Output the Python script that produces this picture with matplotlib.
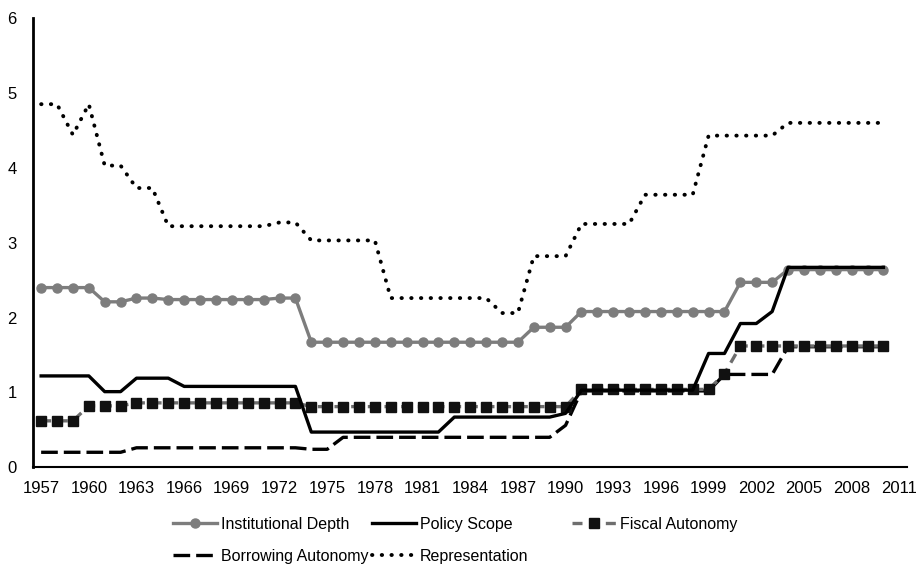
import matplotlib
matplotlib.use("Agg")
import matplotlib.pyplot as plt

years = list(range(1957, 2011))

# values
institutional_depth = [2.40, 2.40, 2.40, 2.40, 2.21, 2.21, 2.26, 2.26, 2.24, 2.24,
                       2.24, 2.24, 2.24, 2.24, 2.24, 2.26, 2.26, 1.67, 1.67, 1.67,
                       1.67, 1.67, 1.67, 1.67, 1.67, 1.67, 1.67, 1.67, 1.67, 1.67,
                       1.67, 1.87, 1.87, 1.87, 2.08, 2.08, 2.08, 2.08, 2.08, 2.08,
                       2.08, 2.08, 2.08, 2.08, 2.47, 2.47, 2.47, 2.64, 2.64, 2.64,
                       2.64, 2.64, 2.64, 2.64]
policy_scope = [1.22, 1.22, 1.22, 1.22, 1.01, 1.01, 1.19, 1.19, 1.19, 1.08,
                1.08, 1.08, 1.08, 1.08, 1.08, 1.08, 1.08, 0.47, 0.47, 0.47,
                0.47, 0.47, 0.47, 0.47, 0.47, 0.47, 0.67, 0.67, 0.67, 0.67,
                0.67, 0.67, 0.67, 0.72, 1.03, 1.03, 1.03, 1.03, 1.03, 1.03,
                1.03, 1.03, 1.52, 1.52, 1.92, 1.92, 2.08, 2.67, 2.67, 2.67,
                2.67, 2.67, 2.67, 2.67]
fiscal_autonomy = [0.62, 0.62, 0.62, 0.82, 0.82, 0.82, 0.86, 0.86, 0.86, 0.86,
                   0.86, 0.86, 0.86, 0.86, 0.86, 0.86, 0.86, 0.81, 0.81, 0.81,
                   0.81, 0.81, 0.81, 0.81, 0.81, 0.81, 0.81, 0.81, 0.81, 0.81,
                   0.81, 0.81, 0.81, 0.81, 1.04, 1.04, 1.04, 1.04, 1.04, 1.04,
                   1.04, 1.04, 1.04, 1.25, 1.62, 1.62, 1.62, 1.62, 1.62, 1.62,
                   1.62, 1.62, 1.62, 1.62]
borrowing_autonomy = [0.20, 0.20, 0.20, 0.20, 0.20, 0.20, 0.26, 0.26, 0.26, 0.26,
                      0.26, 0.26, 0.26, 0.26, 0.26, 0.26, 0.26, 0.24, 0.24, 0.40,
                      0.40, 0.40, 0.40, 0.40, 0.40, 0.40, 0.40, 0.40, 0.40, 0.40,
                      0.40, 0.40, 0.40, 0.56, 1.02, 1.02, 1.02, 1.02, 1.02, 1.02,
                      1.02, 1.02, 1.02, 1.24, 1.24, 1.24, 1.24, 1.61, 1.61, 1.61,
                      1.61, 1.61, 1.61, 1.61]
representation = [4.85, 4.85, 4.44, 4.85, 4.03, 4.03, 3.73, 3.73, 3.22, 3.22,
                  3.22, 3.22, 3.22, 3.22, 3.22, 3.27, 3.27, 3.03, 3.03, 3.03,
                  3.03, 3.03, 2.26, 2.26, 2.26, 2.26, 2.26, 2.26, 2.26, 2.06,
                  2.06, 2.82, 2.82, 2.82, 3.25, 3.25, 3.25, 3.25, 3.64, 3.64,
                  3.64, 3.64, 4.43, 4.43, 4.43, 4.43, 4.43, 4.60, 4.60, 4.60,
                  4.60, 4.60, 4.60, 4.60]

xticks = list(range(1957, 2012, 3))

fig = plt.figure(figsize=(9.22, 5.65), dpi=100)
ax = fig.add_axes([0.036, 0.173, 0.948, 0.795])

h_id, = ax.plot(years, institutional_depth, color="#7d7d7d", lw=2.4, marker="o",
                markersize=6.5, label="Institutional Depth", zorder=3)
h_ps, = ax.plot(years, policy_scope, color="black", lw=2.4, label="Policy Scope", zorder=4)
h_fa, = ax.plot(years, fiscal_autonomy, color="#6e6e6e", lw=2.4, ls=(0, (3, 2)),
                marker="s", markersize=6.5, markerfacecolor="#111111",
                markeredgecolor="#111111", label="Fiscal Autonomy", zorder=3)
h_ba, = ax.plot(years, borrowing_autonomy, color="black", lw=2.4, ls=(0, (5, 1.8)),
                label="Borrowing Autonomy", zorder=2)
h_rep, = ax.plot(years, representation, color="black", lw=2.8, ls=(0, (0.1, 2.4)),
                 dash_capstyle="round", label="Representation", zorder=2)

ax.set_xlim(1956.5, 2011.5)
ax.set_ylim(0, 6)
ax.set_xticks(xticks)
ax.set_yticks(range(0, 7))
ax.tick_params(length=0, pad=10)
for lbl in ax.get_xticklabels() + ax.get_yticklabels():
    lbl.set_family(["Liberation Sans", "DejaVu Sans"])
    lbl.set_fontsize(12)
ax.tick_params(axis="y", pad=12)
for side in ["top", "right"]:
    ax.spines[side].set_visible(False)
ax.spines["left"].set_linewidth(2)
ax.spines["bottom"].set_linewidth(1.5)

# legend laid out in fixed-width columns, like the original
columns = [[h_id, h_ba], [h_ps, h_rep], [h_fa]]
col_x = [173, 372, 572]
for handles, x in zip(columns, col_x):
    leg = fig.legend(handles=handles, loc="upper left",
                     bbox_to_anchor=(x / 922, 1 - 517 / 565),
                     frameon=False, borderpad=0, borderaxespad=0,
                     handlelength=2.75, handletextpad=0.25, labelspacing=1.05,
                     prop={"family": ["Liberation Sans", "DejaVu Sans"], "size": 11.5})

fig.savefig("out.png", dpi=100)
